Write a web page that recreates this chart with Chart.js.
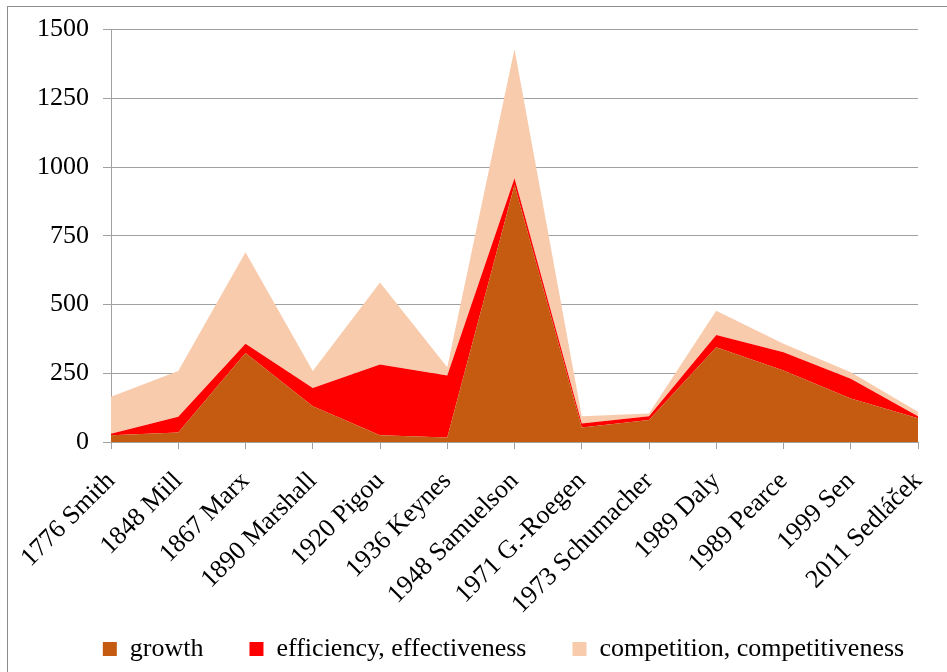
<!DOCTYPE html>
<html>
<head>
<meta charset="utf-8">
<script src="https://cdn.jsdelivr.net/npm/chart.js@4/dist/chart.umd.min.js"></script>
<style>
    html, body { margin: 0; padding: 0; background: #fff; }
    #wrap { position: relative; width: 947px; height: 672px; overflow: hidden; }
    #frame {
        position: absolute; left: 7px; top: 6px; width: 980px; height: 700px;
        border: 1px solid #8c8c8c; pointer-events: none;
    }
    canvas { position: absolute; left: 0; top: 0; }
</style>
</head>
<body>
<div id="wrap">
    <canvas id="topicChart" width="947" height="672"></canvas>
    <div id="frame"></div>
</div>
<script>
const authors = [
    '1776 Smith', '1848 Mill', '1867 Marx', '1890 Marshall', '1920 Pigou',
    '1936 Keynes', '1948 Samuelson', '1971 G.-Roegen', '1973 Schumacher',
    '1989 Daly', '1989 Pearce', '1999 Sen', '2011 Sedláček'
];

const growth = [25, 35, 324, 130, 25, 16, 935, 53, 80, 345, 260, 158, 86];
const efficiency = [5, 57, 33, 66, 257, 226, 24, 14, 14, 44, 66, 72, 8];
const competition = [135, 166, 333, 62, 298, 30, 470, 27, 10, 88, 31, 24, 16];

const serif = 'Liberation Serif, Times New Roman, serif';

function areaSet(label, values, color, fill) {
    return {
        label: label,
        data: values,
        backgroundColor: color,
        borderColor: color,
        borderWidth: 0,
        pointRadius: 0,
        pointHoverRadius: 0,
        tension: 0,
        fill: fill
    };
}

// long slanted names run down past the axis box, so don't clip them;
// the legend row sits a little right of the canvas centre
const layoutTweaks = {
    id: 'layoutTweaks',
    afterLayout(chart) {
        chart.scales.x._computeLabelArea = () => undefined;
        chart.legend.left += 30;
        chart.legend.right += 30;
    }
};

const ctx = document.getElementById('topicChart').getContext('2d');
new Chart(ctx, {
    type: 'line',
    data: {
        labels: authors,
        datasets: [
            areaSet('growth', growth, '#c55a11', 'origin'),
            areaSet('efficiency, effectiveness', efficiency, '#ff0000', '-1'),
            areaSet('competition, competitiveness', competition, '#f8cbad', '-1')
        ]
    },
    plugins: [layoutTweaks],
    options: {
        responsive: false,
        animation: false,
        layout: { padding: { top: 27, right: 0, left: 0, bottom: 0 } },
        scales: {
            x: {
                offset: false,
                afterFit: scale => {
                    scale.height = 148;
                    scale.paddingRight = 29;
                },
                grid: { drawOnChartArea: false, drawTicks: true, tickLength: 7, color: '#a0a0a0' },
                border: { color: '#a0a0a0', width: 1 },
                ticks: {
                    autoSkip: false,
                    minRotation: 45,
                    maxRotation: 45,
                    padding: 17,
                    color: '#000',
                    font: { family: serif, size: 26 }
                }
            },
            y: {
                stacked: true,
                min: 0,
                max: 1500,
                afterFit: scale => { scale.width = 111; },
                grid: { color: '#a0a0a0', tickLength: 8 },
                border: { color: '#a0a0a0', width: 1 },
                ticks: {
                    stepSize: 250,
                    padding: 14,
                    color: '#000',
                    font: { family: serif, size: 26 },
                    callback: value => String(value)
                }
            }
        },
        plugins: {
            legend: {
                position: 'bottom',
                labels: {
                    boxWidth: 14,
                    boxHeight: 14,
                    padding: 46,
                    color: '#000',
                    font: { family: serif, size: 26 }
                }
            },
            tooltip: { enabled: false }
        }
    }
});
</script>
</body>
</html>
